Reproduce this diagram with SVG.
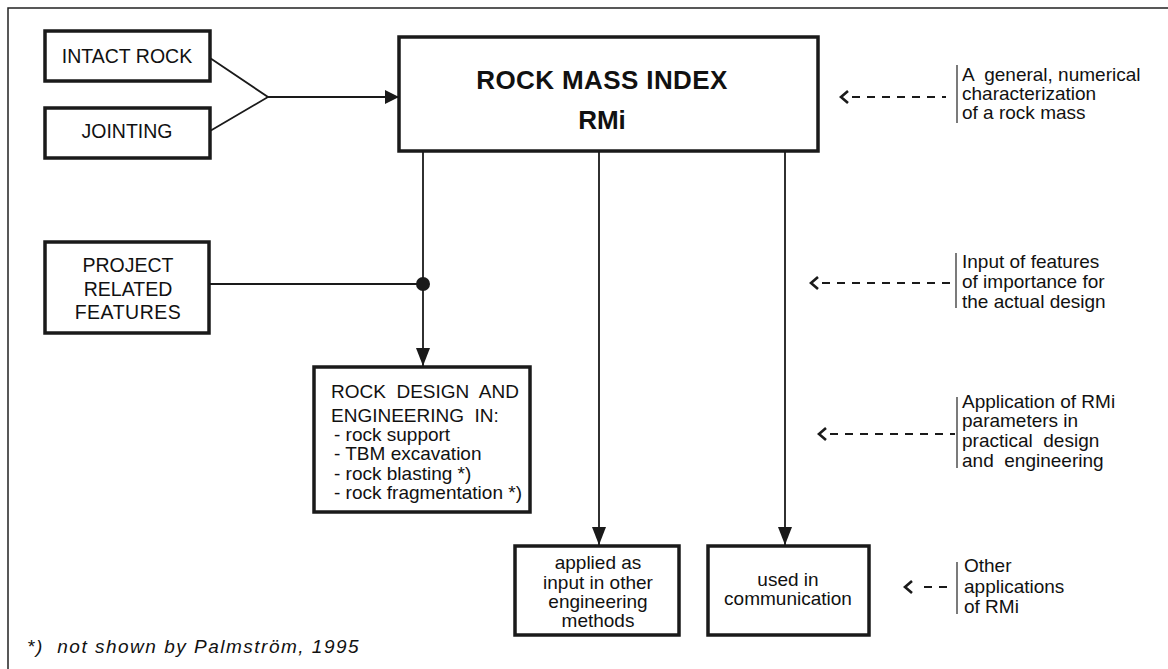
<svg xmlns="http://www.w3.org/2000/svg" width="1168" height="669" viewBox="0 0 1168 669">
<style>
.box{fill:#fff;stroke:#1a1a1a;stroke-width:3.5}
.t{font-family:"Liberation Sans",Arial,sans-serif;font-size:19px;fill:#111}
.c{text-anchor:middle}
.ln{fill:none;stroke:#1a1a1a;stroke-width:1.8}
.dash{fill:none;stroke:#1a1a1a;stroke-width:1.8;stroke-dasharray:8 7}
.chev{fill:none;stroke:#1a1a1a;stroke-width:2.6}
.bar{stroke:#333;stroke-width:1.3}
</style>
<defs>
<marker id="ah" viewBox="0 0 14 14" refX="14" refY="7" markerWidth="14" markerHeight="14" markerUnits="userSpaceOnUse" orient="auto">
<path d="M0,0 L14,7 L0,14 Z" fill="#1a1a1a"/>
</marker>
<marker id="ahv" viewBox="0 0 18 14" refX="18" refY="7" markerWidth="18" markerHeight="14" markerUnits="userSpaceOnUse" orient="auto">
<path d="M0,0 L18,7 L0,14 Z" fill="#1a1a1a"/>
</marker>
</defs>
<rect width="1168" height="669" fill="#fff"/>
<g id="frame">
<path d="M8,669 L8,8 L1168,8" fill="none" stroke="#222" stroke-width="1.5"/>
</g>
<g id="connectors">
<path class="ln" d="M210,58 L268,97 L210,131"/>
<path class="ln" d="M268,97 L399,97" marker-end="url(#ah)"/>
<path class="ln" d="M423,151 L423,366" marker-end="url(#ahv)"/>
<path class="ln" d="M209,284 L423,284"/>
<circle cx="423" cy="284" r="7" fill="#1a1a1a"/>
<path class="ln" d="M599,151 L599,545" marker-end="url(#ahv)"/>
<path class="ln" d="M785,151 L785,545" marker-end="url(#ahv)"/>
</g>
<g id="intact-rock">
<rect class="box" x="45" y="31" width="165" height="50"/>
<text class="t c" x="127" y="63" style="font-size:19.5px">INTACT ROCK</text>
</g>
<g id="jointing">
<rect class="box" x="45" y="108" width="165" height="50"/>
<text class="t c" x="127" y="138" style="font-size:19.5px">JOINTING</text>
</g>
<g id="rmi">
<rect class="box" x="399" y="37" width="419" height="114"/>
<text class="t c" x="602" y="89" style="font-size:26px;font-weight:bold;letter-spacing:0.4px">ROCK MASS INDEX</text>
<text class="t c" x="602" y="129" style="font-size:26px;font-weight:bold">RMi</text>
</g>
<g id="project">
<rect class="box" x="45" y="242" width="164" height="91"/>
<text class="t c" x="128" y="272" style="font-size:19.5px">PROJECT</text>
<text class="t c" x="128" y="296" style="font-size:19.5px">RELATED</text>
<text class="t c" x="128" y="319" style="font-size:19.5px;letter-spacing:0.5px">FEATURES</text>
</g>
<g id="design">
<rect class="box" x="314" y="367" width="216" height="145"/>
<text class="t" x="331" y="398" xml:space="preserve">ROCK  DESIGN  AND</text>
<text class="t" x="331" y="422" xml:space="preserve">ENGINEERING  IN:</text>
<text class="t" x="334" y="441">- rock support</text>
<text class="t" x="334" y="460">- TBM excavation</text>
<text class="t" x="334" y="480">- rock blasting *)</text>
<text class="t" x="334" y="499">- rock fragmentation *)</text>
</g>
<g id="applied">
<rect class="box" x="515" y="546" width="164" height="89"/>
<text class="t c" x="598" y="569">applied as</text>
<text class="t c" x="598" y="589">input in other</text>
<text class="t c" x="598" y="608">engineering</text>
<text class="t c" x="598" y="627">methods</text>
</g>
<g id="communication">
<rect class="box" x="708" y="546" width="161" height="89"/>
<text class="t c" x="788" y="586">used in</text>
<text class="t c" x="788" y="605">communication</text>
</g>
<g id="note1">
<path class="chev" d="M848,91 L841,97 L848,103"/>
<path class="dash" d="M852,97 L946,97"/>
<line class="bar" x1="957" y1="65" x2="957" y2="123"/>
<text class="t" x="962" y="81" xml:space="preserve">A  general, numerical</text>
<text class="t" x="962" y="100">characterization</text>
<text class="t" x="962" y="119">of a rock mass</text>
</g>
<g id="note2">
<path class="chev" d="M818,277 L811,283 L818,289"/>
<path class="dash" d="M822,283 L952,283"/>
<line class="bar" x1="956" y1="253" x2="956" y2="308"/>
<text class="t" x="962" y="268">Input of features</text>
<text class="t" x="962" y="288">of importance for</text>
<text class="t" x="962" y="308">the actual design</text>
</g>
<g id="note3">
<path class="chev" d="M826,428 L819,434 L826,440"/>
<path class="dash" d="M830,434 L955,434"/>
<line class="bar" x1="957" y1="397" x2="957" y2="468"/>
<text class="t" x="962" y="408">Application of RMi</text>
<text class="t" x="962" y="427">parameters in</text>
<text class="t" x="962" y="447" xml:space="preserve">practical  design</text>
<text class="t" x="962" y="467" xml:space="preserve">and  engineering</text>
</g>
<g id="note4">
<path class="chev" d="M912,581 L905,587 L912,593"/>
<path class="dash" d="M924,587 L952,587"/>
<line class="bar" x1="957" y1="562" x2="957" y2="614"/>
<text class="t" x="964" y="572">Other</text>
<text class="t" x="964" y="593">applications</text>
<text class="t" x="964" y="613">of RMi</text>
</g>
<g id="footnote">
<text class="t" x="27" y="653" style="font-style:italic;letter-spacing:1.5px" xml:space="preserve">*)  not shown by Palmström, 1995</text>
</g>
</svg>
